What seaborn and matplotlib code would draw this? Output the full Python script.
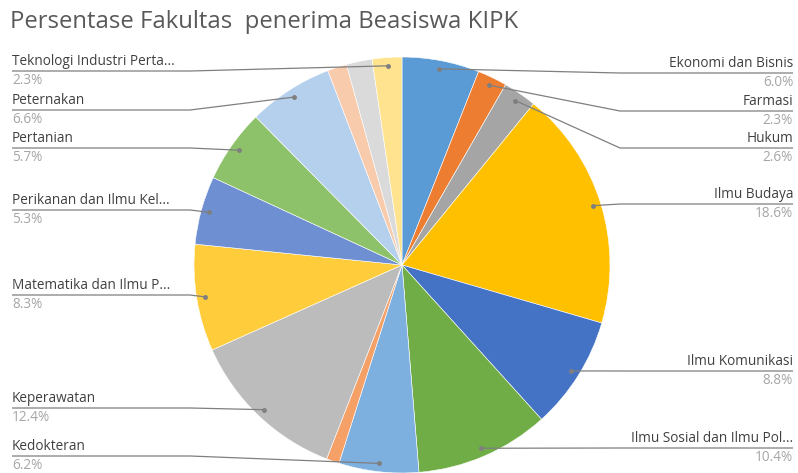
import numpy as np
import matplotlib
matplotlib.use("Agg")
import matplotlib.pyplot as plt
import seaborn as sns

sns.set_theme(style="white")
plt.rcParams['font.family'] = ['Open Sans', 'DejaVu Sans']

# data
fakultas = ["Ekonomi dan Bisnis", "Farmasi", "Hukum", "Ilmu Budaya", "Ilmu Komunikasi",
            "Ilmu Sosial dan Ilmu Pol...", "Kedokteran", "Kedokteran Gigi", "Keperawatan",
            "Matematika dan Ilmu P...", "Perikanan dan Ilmu Kel...", "Pertanian", "Peternakan",
            "Psikologi", "Teknik Geologi", "Teknologi Industri Perta..."]
persen = [6.0, 2.3, 2.6, 18.6, 8.8, 10.4, 6.2, 1.0, 12.4, 8.3, 5.3, 5.7, 6.6, 1.5, 2.0, 2.3]
warna = ["#5B9BD5", "#ED7D31", "#A5A5A5", "#FFC000", "#4472C4", "#70AD47",
         "#7EB0DF", "#F4A067", "#BCBCBC", "#FFCD3C", "#6E8FD2", "#8DC26A",
         "#B4D0EC", "#F8CBAD", "#DADADA", "#FFE38F"]
tampil = [True, True, True, True, True, True, True, False, True, True, True, True, True,
          False, False, True]

# label line heights (pixels from top)
label_y = {"Ekonomi dan Bisnis": 73, "Farmasi": 111, "Hukum": 148, "Ilmu Budaya": 204,
           "Ilmu Komunikasi": 371, "Ilmu Sosial dan Ilmu Pol...": 448, "Kedokteran": 456,
           "Keperawatan": 408, "Matematika dan Ilmu P...": 295,
           "Perikanan dan Ilmu Kel...": 210, "Pertanian": 148, "Peternakan": 110,
           "Teknologi Industri Perta...": 71}

W, H = 798, 473
fig = plt.figure(figsize=(W / 100, H / 100), dpi=100)
ax = fig.add_axes([0, 0, 1, 1])

cx, cy, R = 402, H - 265, 208
wedges, _ = ax.pie(persen, colors=warna, startangle=90, counterclock=False,
                   center=(cx, cy), radius=R,
                   wedgeprops=dict(edgecolor="white", linewidth=0.4))
ax.set_xlim(0, W)
ax.set_ylim(0, H)
ax.set_aspect("equal")
ax.set_axis_off()

line_col = "#7F7F7F"
for w, nama, p, show in zip(wedges, fakultas, persen, tampil):
    if not show:
        continue
    mid = np.deg2rad((w.theta1 + w.theta2) / 2)
    px, py = cx + 0.96 * R * np.cos(mid), cy + 0.96 * R * np.sin(mid)
    ly = H - label_y[nama]
    if px > cx:
        x0, xe, ha = 793, 620, "right"
    else:
        x0, xe, ha = 12, 190, "left"
    ax.plot([x0, xe, px], [ly, ly, py], color=line_col, lw=0.9, solid_capstyle="butt")
    ax.plot(px, py, "o", color=line_col, ms=2.5)
    ax.text(x0, ly + 2, nama, ha=ha, va="bottom", fontsize=9.8, color="#404040")
    ax.text(x0, ly - 2, f"{p:.1f}%", ha=ha, va="top", fontsize=9.8, color="#A6A6A6")

ax.text(10, H - 22, "Persentase Fakultas  penerima Beasiswa KIPK", ha="left", va="center",
        fontsize=17.2, color="#595959")

fig.savefig("out.png", dpi=100)
